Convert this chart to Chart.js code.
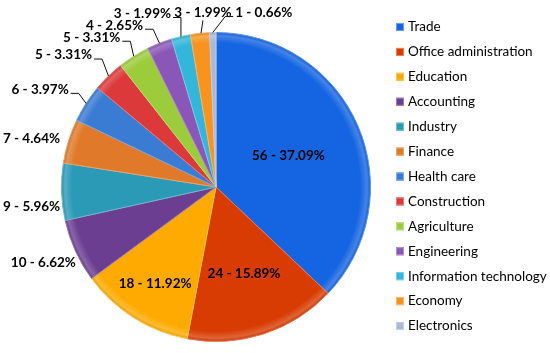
<!DOCTYPE html>
<html><head><meta charset="utf-8">
<script src="https://cdn.jsdelivr.net/npm/chart.js@4"></script>
<style>html,body{margin:0;padding:0;background:#fff}canvas{display:block}</style>
</head><body>
<canvas id="c" width="550" height="353"></canvas>
<script>
const categories = ['Trade','Office administration','Education','Accounting','Industry','Finance','Health care','Construction','Agriculture','Engineering','Information technology','Economy','Electronics'];
const counts = [56,24,18,10,9,7,6,5,5,4,3,3,1];
const colors = ['#1565E2','#D83C02','#FFAA00','#6B3E92','#2B9AB6','#E07A2A','#3A7BD3','#DC3A3A','#9CCB3C','#8A57B9','#33B6D9','#F7931E','#A8B8D5'];

// label layout: inside -> fraction of radius; outside -> offset from arc edge point
const placement = [
  {r:0.51},{r:0.59},{r:0.74},
  {dx:-32,dy:12,leader:false},{dx:-30,dy:15,leader:false},{dx:-37,dy:-2,leader:false},
  {dx:-46,dy:-14,leader:true},{dx:-45,dy:-21,leader:true},{dx:-42,dy:-19,leader:true},
  {dx:-45,dy:-18,leader:true},{dx:-38.5,dy:-23,leader:true},{dx:3,dy:-21,leader:true},
  {dx:51,dy:-20,leader:true}
];
const total = counts.reduce((a,b)=>a+b,0);
const labelText = counts.map(v => v + ' - ' + (v/total*100).toFixed(2) + '%');

function shade(hex, f){
  const n=parseInt(hex.slice(1),16);let r=n>>16,g=(n>>8)&255,b=n&255;
  if(f>0){r+=(255-r)*f;g+=(255-g)*f;b+=(255-b)*f;}else{r*=1+f;g*=1+f;b*=1+f;}
  return 'rgb('+Math.round(r)+','+Math.round(g)+','+Math.round(b)+')';
}
const gradCache={};
function sliceFill(ctx){
  const i=ctx.dataIndex, chart=ctx.chart, a=chart.chartArea;
  if(!a) return colors[i];
  const key=i+'_'+a.left+'_'+a.top;
  if(gradCache[key]) return gradCache[key];
  const cx=(a.left+a.right)/2, cy=(a.top+a.bottom)/2, r=Math.min(a.right-a.left,a.bottom-a.top)/2;
  const g=chart.ctx.createRadialGradient(cx,cy,0,cx,cy,r);
  g.addColorStop(0,colors[i]);g.addColorStop(0.93,colors[i]);
  g.addColorStop(0.975,shade(colors[i],0.2));g.addColorStop(1,shade(colors[i],-0.12));
  gradCache[key]=g;return g;
}

const labelPlugin={
  id:'pielabels',
  afterDatasetsDraw(chart){
    const ctx=chart.ctx, meta=chart.getDatasetMeta(0);
    ctx.save();
    ctx.font='bold 13.5px Lato';
    ctx.textAlign='center';ctx.textBaseline='middle';
    meta.data.forEach((arc,i)=>{
      const p=arc.getProps(['x','y','startAngle','endAngle','outerRadius'],true);
      const mid=(p.startAngle+p.endAngle)/2;
      const ex=p.x+p.outerRadius*Math.cos(mid), ey=p.y+p.outerRadius*Math.sin(mid);
      const pl=placement[i], txt=labelText[i];
      let lx,ly;
      if(pl.r!==undefined){lx=p.x+pl.r*p.outerRadius*Math.cos(mid);ly=p.y+pl.r*p.outerRadius*Math.sin(mid);}
      else{lx=ex+pl.dx;ly=ey+pl.dy;}
      const w=ctx.measureText(txt).width;
      if(pl.leader){
        ctx.strokeStyle='#111';ctx.lineWidth=1;ctx.beginPath();
        if(Math.abs(lx-ex)<w/2-6){
          ctx.moveTo(lx,ly+8);ctx.lineTo(ex+1,ey);
        }else if(lx<ex){
          const ax=lx+w/2+2, ay=ly+4; let bx=Math.min(ax+8,ex);
          ctx.moveTo(ex,ey);ctx.lineTo(bx,ay);ctx.lineTo(ax,ay);
        }else{
          const ax=lx-w/2-2, ay=ly+4; let bx=Math.max(ax-8,ex);
          ctx.moveTo(ex,ey);ctx.lineTo(bx,ay);ctx.lineTo(ax,ay);
        }
        ctx.stroke();
      }
      ctx.fillStyle='#000';
      ctx.fillText(txt,lx,ly);
    });
    ctx.restore();
  }
};

const legendPlugin={
  id:'sideLegend',
  afterDraw(chart){
    const ctx=chart.ctx;ctx.save();
    ctx.font='13.5px Lato';ctx.textBaseline='middle';ctx.textAlign='left';
    const x0=396, y0=27, step=24.92;
    categories.forEach((c,i)=>{
      const y=y0+i*step;
      ctx.fillStyle=colors[i];ctx.fillRect(x0,y-4,8,8);
      ctx.strokeStyle=shade(colors[i],0.35);ctx.lineWidth=1;ctx.strokeRect(x0+0.5,y-3.5,7,7);
      ctx.fillStyle='#000';ctx.fillText(c,x0+12,y);
    });
    ctx.restore();
  }
};

new Chart(document.getElementById('c'),{
  type:'pie',
  data:{labels:categories,datasets:[{data:counts,backgroundColor:sliceFill,
    borderColor:colors.map(c=>shade(c,0.3)),borderWidth:1}]},
  options:{responsive:false,animation:false,
    layout:{padding:{left:61,right:179,top:32,bottom:11}},
    plugins:{legend:{display:false},tooltip:{enabled:false}}},
  plugins:[labelPlugin,legendPlugin]
});
</script>
</body></html>
